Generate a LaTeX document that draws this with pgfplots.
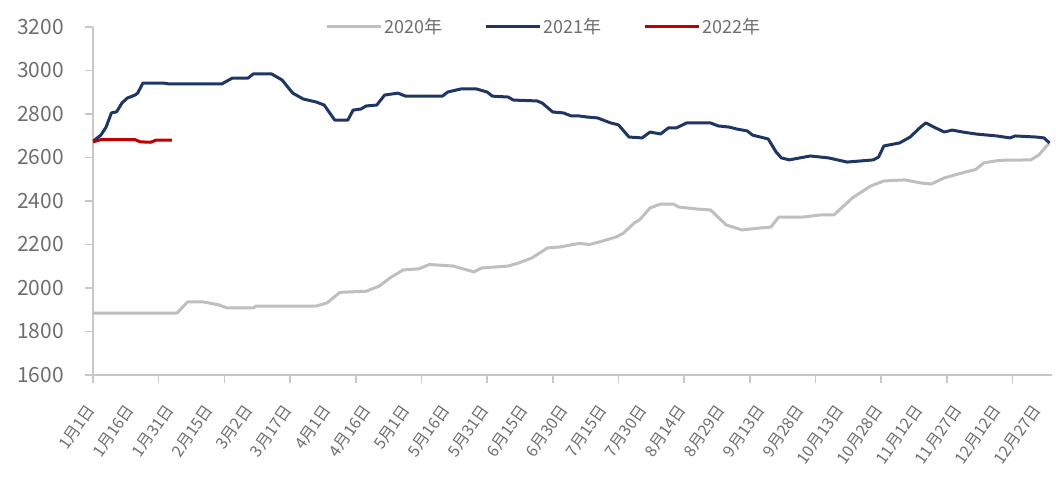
\documentclass[border=0pt]{standalone}
\usepackage{fontspec}
\setmainfont{Noto Sans CJK SC}
\usepackage{pgfplots}
\pgfplotsset{compat=1.18}
\definecolor{c2020}{RGB}{191,191,191}
\definecolor{c2021}{RGB}{31,54,100}
\definecolor{c2022}{RGB}{192,0,0}
\definecolor{txt}{RGB}{110,110,110}
\definecolor{axl}{RGB}{200,200,200}

\begin{document}
\begin{tikzpicture}
\useasboundingbox (-46.5pt,-57.5pt) rectangle (481.5pt,187.5pt);
\begin{axis}[
  at={(0pt,0pt)}, anchor=south west,
  scale only axis,
  width=479.5pt, height=174pt,
  xmin=0, xmax=365,
  ymin=1600, ymax=3200,
  ytick={1600,1800,...,3200},
  xtick={0,15,...,360},
  xticklabels={1月1日,1月16日,1月31日,2月15日,3月2日,3月17日,4月1日,4月16日,5月1日,5月16日,5月31日,6月15日,6月30日,7月15日,7月30日,8月14日,8月29日,9月13日,9月28日,10月13日,10月28日,11月12日,11月27日,12月12日,12月27日},
  minor xtick={0,25,...,350},
  axis x line*=bottom,
  axis y line*=left,
  axis line style={axl, line width=0.8pt},
  tick align=outside,
  major x tick style={draw=none},
  minor x tick style={axl, line width=0.8pt},
  major y tick style={axl, line width=0.8pt},
  major tick length=4pt,
  minor tick length=4pt,
  /pgf/number format/assume math mode=true,
  /pgf/number format/1000 sep={},
  yticklabel style={font=\fontsize{10.5}{12}\selectfont, text=txt, xshift=-7pt},
  xticklabel style={font=\fontsize{8}{9}\selectfont, text=txt, xshift=1pt, yshift=-9pt, rotate=55, anchor=east},
  legend style={at={(rel axis cs:0.47,1)}, anchor=center, draw=none, fill=none,
    legend columns=-1, font=\fontsize{9}{10}\selectfont, text=txt,
    /tikz/every even column/.append style={column sep=20pt},
    nodes={inner sep=1pt}},
  legend image code/.code={\draw[#1] (0pt,0pt) -- (27pt,0pt);},
  every axis plot/.append style={line width=1.5pt, line join=round},
]

% 2020
\addplot[c2020] coordinates {
(0,1885)(32,1885)(36,1936)(42,1936)(48,1922)(51,1908)(61,1908)(62,1917)(85,1917)
(89,1931)(94,1980)(104,1985)(109,2009)(113,2046)(118,2083)(124,2088)(128,2108)
(137,2101)(145,2074)(148,2092)(158,2101)(162,2115)(167,2138)(173,2184)(178,2189)
(185,2205)(189,2200)(194,2216)(199,2234)(202,2253)(206,2299)(208,2313)(212,2368)
(216,2386)(221,2386)(223,2372)(230,2363)(235,2359)(237,2336)(241,2290)(247,2267)
(254,2276)(258,2280)(261,2326)(270,2326)(277,2336)(282,2336)(289,2414)(296,2469)
(301,2492)(309,2497)(315,2483)(319,2478)(324,2506)(332,2533)(336,2545)(339,2575)
(345,2587)(357,2589)(360,2612)(364,2667)
};
\addlegendentry{2020年}

% 2021
\addplot[c2021] coordinates {
(0,2675)(3,2703)(5,2740)(7,2805)(9,2810)(11,2850)(13,2873)(16,2887)(17,2896)
(19,2942)(27,2942)(29,2938)(49,2938)(53,2965)(59,2965)(61,2984)(68,2984)(72,2956)
(76,2896)(80,2869)(85,2855)(88,2841)(92,2772)(97,2772)(99,2818)(102,2823)(104,2837)
(108,2841)(111,2887)(116,2896)(119,2882)(133,2882)(135,2901)(140,2915)(146,2915)
(150,2901)(152,2882)(158,2878)(160,2864)(169,2860)(171,2850)(175,2809)(179,2805)
(182,2791)(185,2791)(188,2786)(192,2782)(197,2759)(200,2750)(204,2694)(209,2690)
(212,2717)(216,2708)(219,2736)(222,2736)(226,2759)(235,2759)(238,2745)(242,2740)
(245,2731)(249,2722)(251,2703)(257,2685)(260,2625)(262,2598)(265,2589)(269,2598)
(273,2607)(280,2598)(287,2579)(297,2589)(299,2602)(301,2653)(307,2667)(311,2694)
(315,2740)(317,2759)(320,2740)(324,2717)(327,2726)(331,2717)(336,2708)(344,2699)
(349,2690)(351,2699)(359,2694)(362,2690)(364,2667)
};
\addlegendentry{2021年}

% 2022
\addplot[c2022] coordinates {
(0,2672)(3,2682)(16,2682)(18,2672)(22,2670)(24,2680)(30,2680)
};
\addlegendentry{2022年}

\end{axis}
\end{tikzpicture}
\end{document}
